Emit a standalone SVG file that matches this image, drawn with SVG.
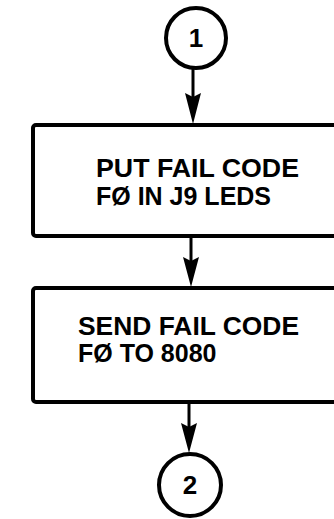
<svg xmlns="http://www.w3.org/2000/svg" width="334" height="519" viewBox="0 0 334 519">
<defs>
<style>
.shape{fill:none;stroke:#000;stroke-width:4}
.line{stroke:#000;stroke-width:3;fill:none}
.head{fill:#000;stroke:none}
.t{font-family:"Liberation Sans",Arial,sans-serif;font-weight:bold;font-size:25px;fill:#000}
.n{font-family:"Liberation Sans",Arial,sans-serif;font-weight:bold;font-size:26px;fill:#000;text-anchor:middle}
</style>
</defs>
<rect width="334" height="519" fill="#fff"/>
<g id="connector1">
<circle class="shape" cx="196" cy="38" r="30"/>
<text class="n" x="196" y="47">1</text>
</g>
<g id="box1">
<rect class="shape" x="33" y="125" width="320" height="111" rx="3"/>
<text class="t" x="96" y="177" textLength="203" lengthAdjust="spacingAndGlyphs">PUT FAIL CODE</text>
<text class="t" x="96" y="205">FØ IN J9 LEDS</text>
</g>
<g id="box2">
<rect class="shape" x="33" y="288" width="320" height="114" rx="3"/>
<text class="t" x="78" y="335" textLength="221" lengthAdjust="spacingAndGlyphs">SEND FAIL CODE</text>
<text class="t" x="78" y="362">FØ TO 8080</text>
</g>
<g id="connector2">
<circle class="shape" cx="190" cy="485" r="31"/>
<text class="n" x="190" y="494">2</text>
</g>
<g id="connectors">
<line class="line" x1="193" y1="68" x2="193" y2="110"/>
<path class="head" d="M185,93 L193,97 L201,93 L193,124 Z"/>
<line class="line" x1="191" y1="236" x2="191" y2="272"/>
<path class="head" d="M183,257 L191,261 L199,257 L191,287 Z"/>
<line class="line" x1="189" y1="402" x2="189" y2="438"/>
<path class="head" d="M181,423 L189,427 L197,423 L189,453 Z"/>
</g>
</svg>
